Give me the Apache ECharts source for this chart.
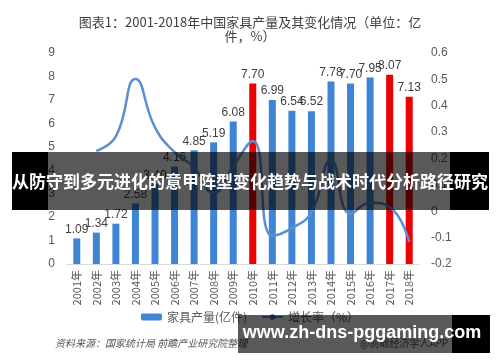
<!DOCTYPE html>
<html><head><meta charset="utf-8">
<script src="https://cdn.jsdelivr.net/npm/echarts@6/dist/echarts.min.js"></script>
<style>html,body{margin:0;padding:0;background:#fff}#c{width:500px;height:362px}</style>
</head><body><div id="c"></div>
<script>
const years = ['2001年','2002年','2003年','2004年','2005年','2006年','2007年','2008年','2009年','2010年','2011年','2012年','2013年','2014年','2015年','2016年','2017年','2018年'];
const output = [1.09,1.34,1.72,2.58,3.40,4.16,4.85,5.19,6.08,7.70,6.99,6.54,6.52,7.78,7.70,7.95,8.07,7.13];
const highlighted = ['2010年','2017年','2018年'];
const growth = [null,0.229,0.284,0.5010,0.318,0.224,0.166,0.070,0.171,0.2667,-0.0927,-0.064,-0.003,0.193,-0.010,0.032,0.0156,-0.1168];
const labeledGrowth = ['2004年','2010年','2011年','2017年','2018年'];
const leftTicks = [0,9,1];
const rightTicks = [-0.2,0.6,0.1];

const chart = echarts.init(document.getElementById('c'));
const txt = '#404040';
chart.setOption({
  animation:false,
  title:{text:'图表1：2001-2018年中国家具产量及其变化情况（单位：亿\n件，%）',left:'center',top:10,
    textStyle:{fontSize:13,fontWeight:'normal',color:txt,lineHeight:14,fontFamily:'Noto Sans CJK SC'}},
  grid:{left:67,right:81,top:53,bottom:98},
  legend:{bottom:34,left:'center',itemWidth:21,itemHeight:7,itemGap:14,
    textStyle:{fontSize:12,color:'#595959',fontFamily:'Noto Sans CJK SC'},
    data:[{name:'家具产量(亿件)'},{name:'增长率（%）',itemStyle:{color:'#3f6aa6'}}]},
  xAxis:{type:'category',data:years,
    axisLine:{lineStyle:{color:'#d9d9d9'}},axisTick:{show:false},
    axisLabel:{rotate:90,fontSize:11,color:'#595959',margin:6,interval:0,fontFamily:'Noto Sans CJK SC'}},
  yAxis:[
    {type:'value',min:leftTicks[0],max:leftTicks[1],interval:leftTicks[2],splitLine:{show:false},
     axisLabel:{fontSize:12,color:'#595959',margin:12}},
    {type:'value',min:rightTicks[0],max:rightTicks[1],interval:rightTicks[2],splitLine:{show:false},
     axisLabel:{fontSize:12,color:'#595959',margin:12,formatter:v=>(Math.round(v*10)/10).toString()}}
  ],
  series:[
    {name:'家具产量(亿件)',type:'bar',barWidth:7,yAxisIndex:0,
     itemStyle:{color:'#3e85d6'},
     data:output.map((v,i)=>({value:v,itemStyle:{color:highlighted.includes(years[i])?'#ee0000':'#3e85d6'}})),
     label:{show:true,position:'top',fontSize:12,color:txt,distance:3,formatter:p=>p.value.toFixed(2)}},
    {name:'增长率（%）',type:'line',yAxisIndex:1,smooth:0.5,showSymbol:false,symbol:'none',
     lineStyle:{color:'#5b8fd0',width:2.5},itemStyle:{color:'#5b8fd0'},
     data:growth.map((v,i)=>{
       const o={value:v};
       if(labeledGrowth.includes(years[i])){
         const pos={'2004年':'right','2010年':'right','2011年':'bottom','2017年':'top','2018年':'bottom'}[years[i]];
         o.label={show:true,position:pos,fontSize:12,color:txt,distance:4,
           offset:{'2004年':[4,0],'2010年':[-4,-8],'2011年':[2,-2],'2017年':[0,-2],'2018年':[0,-4]}[years[i]],
           formatter:p=>(p.value*100).toFixed(2)+'%'};
       }
       return o;
     })}
  ],
  graphic:[
    {type:'text',left:55,top:338,style:{text:'资料来源：国家统计局 前瞻产业研究院整理',fontSize:10,fontStyle:'italic',fill:'#555',fontFamily:'Noto Sans CJK SC'}},
    {type:'text',left:360,top:338,style:{text:'@前瞻经济学人APP',fontSize:10,fill:'#555',fontFamily:'Noto Sans CJK SC'}},
    {type:'rect',shape:{x:12,y:152,width:36,height:58},style:{fill:'#000'},z:100},
    {type:'rect',shape:{x:48,y:152,width:402,height:58},style:{fill:'rgba(0,0,0,0.65)'},z:100},
    {type:'rect',shape:{x:450,y:152,width:39,height:58},style:{fill:'#000'},z:100},
    {type:'text',x:250,y:182,z:101,style:{text:'从防守到多元进化的意甲阵型变化趋势与战术时代分析路径研究',fontSize:17,fontWeight:'bold',fill:'#fff',align:'center',verticalAlign:'middle',fontFamily:'Noto Sans CJK SC'}},
    {type:'rect',shape:{x:238,y:315,width:214,height:38},style:{fill:'rgba(0,0,0,0.65)'},z:100},
    {type:'rect',shape:{x:452,y:315,width:38,height:38},style:{fill:'#000'},z:100},
    {type:'text',x:362,y:333,z:101,style:{text:'www.zh-dns-pggaming.com',fontSize:18,fontWeight:'bold',fill:'#fff',align:'center',verticalAlign:'middle',fontFamily:'Liberation Sans'}}
  ]
});
</script></body></html>
